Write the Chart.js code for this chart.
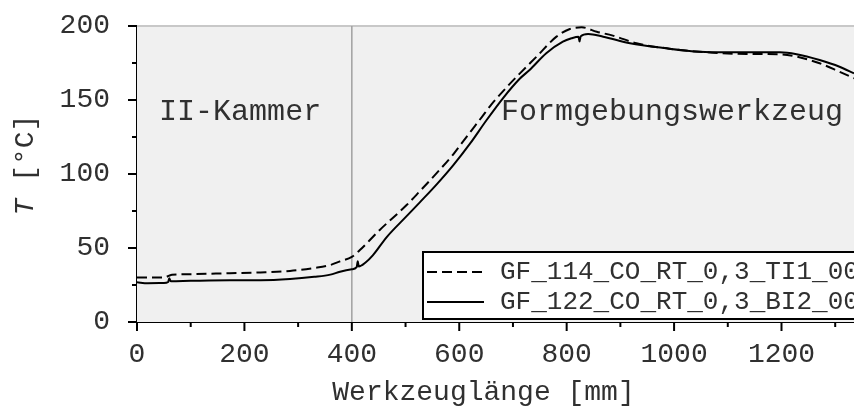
<!DOCTYPE html>
<html>
<head>
<meta charset="utf-8">
<script src="https://cdn.jsdelivr.net/npm/chart.js@4.4.1/dist/chart.umd.min.js"></script>
<style>
  html, body { margin: 0; padding: 0; background: #ffffff; overflow: hidden; }
  #wrap { width: 854px; height: 412px; }
</style>
</head>
<body>
<div id="wrap"><canvas id="tChart" width="854" height="412"></canvas></div>
<script>
// Messwerte: Temperatur entlang der Werkzeuglänge
const seriesNames = ['GF_114_CO_RT_0,3_TI1_001', 'GF_122_CO_RT_0,3_BI2_001'];

// GF_114 (gestrichelt)
const xDashed = [0, 50, 65, 100, 173, 230, 285, 330, 360, 378, 400, 415, 452, 502, 527, 545, 564, 586, 604, 623, 642, 660, 688, 713, 744, 781, 806, 828, 856, 886, 930, 986, 1011, 1073, 1135, 1197, 1228, 1271, 1308, 1335];
const yDashed = [30, 30, 32, 32.3, 33, 33.5, 34.5, 36.5, 38.5, 41, 44, 48.6, 62.2, 79, 88.5, 95.5, 103, 112, 120.5, 129.5, 138.5, 147, 158.5, 168, 179.3, 192.8, 198, 199.1, 196.1, 193.5, 188.3, 184.9, 183.8, 182, 181.1, 180.9, 179.3, 174.8, 169.1, 164.7];

// GF_122 (durchgezogen)
const xSolid = [0, 20, 50, 58, 60, 63, 100, 173, 230, 285, 330, 360, 378, 400, 409, 411, 413, 425, 439, 465, 502, 527, 558, 589, 620, 651, 682, 713, 731, 762, 793, 809, 822, 824, 826, 840, 868, 918, 986, 1048, 1100, 1150, 1197, 1228, 1271, 1308, 1335];
const ySolid = [26.8, 26.2, 26.3, 27, 29.5, 27.5, 27.8, 28.2, 28.2, 29, 30.5, 32, 34, 35.6, 37, 41, 37.5, 40, 45, 57.4, 71.5, 81, 93, 106, 120.5, 136.5, 151.5, 164.5, 170.3, 181.6, 189.4, 191.7, 192.8, 189.5, 193, 194.6, 192.8, 188.3, 184.9, 182.6, 182.2, 182.2, 182.2, 180.9, 177, 172.5, 168];

// Achsen
const xMin = 0, xMax = 1335, xMajor = 200, xMinor = 100;
const yMin = 0, yMax = 200, yMajor = 50, yMinor = 25;
const xTitle = 'Werkzeuglänge [mm]';

// Bereiche
const zoneBorder = 400;
const zoneLabels = ['II-Kammer', 'Formgebungswerkzeug'];
const zoneLabelX = [192, 996];
const zoneLabelY = 142;

const FONT = "'Liberation Mono', 'Courier New', monospace";

function toPoints(xs, ys) {
  return xs.map((x, i) => ({ x: x, y: ys[i] }));
}

// Hintergrund, Bereichslinie, Ticks, Beschriftungen, Legende
const decoPlugin = {
  id: 'deco',
  beforeDatasetsDraw(chart) {
    const { ctx, chartArea: a, scales } = chart;
    ctx.save();
    ctx.fillStyle = '#f0f0f0';
    ctx.fillRect(a.left, a.top, a.right - a.left, a.bottom - a.top);

    // obere Rahmenlinie
    ctx.strokeStyle = '#c8c8c8';
    ctx.lineWidth = 2;
    ctx.beginPath();
    ctx.moveTo(a.left, a.top);
    ctx.lineTo(a.right, a.top);
    ctx.stroke();

    // Grenze II-Kammer / Werkzeug
    const xb = scales.x.getPixelForValue(zoneBorder);
    ctx.strokeStyle = '#a0a0a0';
    ctx.lineWidth = 1.5;
    ctx.beginPath();
    ctx.moveTo(xb, a.top);
    ctx.lineTo(xb, a.bottom);
    ctx.stroke();

    // Bereichsnamen
    ctx.fillStyle = '#303030';
    ctx.font = '30px ' + FONT;
    ctx.textAlign = 'center';
    ctx.textBaseline = 'middle';
    zoneLabels.forEach((t, i) => {
      ctx.fillText(t, scales.x.getPixelForValue(zoneLabelX[i]), scales.y.getPixelForValue(zoneLabelY));
    });
    ctx.restore();
  },
  afterDraw(chart) {
    const { ctx, chartArea: a, scales } = chart;
    ctx.save();
    ctx.strokeStyle = '#000000';
    ctx.lineWidth = 2;

    // x-Ticks
    for (let v = xMin; v <= xMax; v += xMinor) {
      const px = scales.x.getPixelForValue(v);
      const len = v % xMajor === 0 ? 9 : 5;
      ctx.beginPath();
      ctx.moveTo(px, a.bottom);
      ctx.lineTo(px, a.bottom + len);
      ctx.stroke();
    }
    // y-Ticks
    for (let v = yMin; v <= yMax; v += yMinor) {
      const py = scales.y.getPixelForValue(v);
      const len = v % yMajor === 0 ? 9 : 5;
      ctx.beginPath();
      ctx.moveTo(a.left, py);
      ctx.lineTo(a.left - len, py);
      ctx.stroke();
    }

    // Achsentitel
    ctx.fillStyle = '#303030';
    ctx.textBaseline = 'middle';
    ctx.textAlign = 'center';
    ctx.font = '28px ' + FONT;
    ctx.fillText(xTitle, (a.left + 830) / 2, 393);

    ctx.save();
    ctx.translate(26, 165);
    ctx.rotate(-Math.PI / 2);
    ctx.textAlign = 'left';
    const italicT = 'italic 28px ' + FONT;
    const rest = ' [°C]';
    ctx.font = italicT;
    const wT = ctx.measureText('T').width;
    ctx.font = '28px ' + FONT;
    const wR = ctx.measureText(rest).width;
    const start = -(wT + wR) / 2;
    ctx.font = italicT;
    ctx.fillText('T', start, 0);
    ctx.font = '28px ' + FONT;
    ctx.fillText(rest, start + wT, 0);
    ctx.restore();

    // Legende
    const lx = 423, ly = 252, lw = 460, lh = 67;
    ctx.fillStyle = '#ffffff';
    ctx.fillRect(lx, ly, lw, lh);
    ctx.strokeStyle = '#000000';
    ctx.lineWidth = 2;
    ctx.strokeRect(lx, ly, lw, lh);
    chart.data.datasets.forEach((ds, i) => {
      const yy = ly + 20 + i * 30;
      ctx.strokeStyle = '#000000';
      ctx.lineWidth = 2;
      ctx.setLineDash(ds.borderDash || []);
      ctx.beginPath();
      ctx.moveTo(lx + 4, yy);
      ctx.lineTo(lx + 61, yy);
      ctx.stroke();
      ctx.setLineDash([]);
      ctx.fillStyle = '#303030';
      ctx.font = '26px ' + FONT;
      ctx.textAlign = 'left';
      ctx.textBaseline = 'middle';
      ctx.fillText(ds.label, lx + 77, yy);
    });
    ctx.restore();
  }
};

new Chart(document.getElementById('tChart'), {
  type: 'line',
  data: {
    datasets: [
      {
        label: seriesNames[0],
        data: toPoints(xDashed, yDashed),
        borderColor: '#000000',
        borderWidth: 2,
        borderDash: [10, 5],
        pointRadius: 0,
        cubicInterpolationMode: 'monotone'
      },
      {
        label: seriesNames[1],
        data: toPoints(xSolid, ySolid),
        borderColor: '#000000',
        borderWidth: 2,
        pointRadius: 0,
        cubicInterpolationMode: 'monotone'
      }
    ]
  },
  options: {
    responsive: false,
    animation: false,
    layout: { padding: { top: 26, right: 0, left: 0, bottom: 0 } },
    plugins: { legend: { display: false }, tooltip: { enabled: false } },
    scales: {
      x: {
        type: 'linear',
        min: xMin,
        max: xMax,
        grid: { display: false },
        border: { display: true, color: '#000000', width: 2 },
        ticks: {
          stepSize: xMajor,
          includeBounds: false,
          autoSkip: false,
          maxRotation: 0,
          padding: 8,
          color: '#303030',
          font: { family: FONT, size: 28 },
          callback: (v) => String(v)
        },
        afterFit(scale) {
          scale.height = 90;
          scale.paddingLeft = 0;
          scale.paddingRight = 0;
        }
      },
      y: {
        min: yMin,
        max: yMax,
        grid: { display: false },
        border: { display: true, color: '#000000', width: 2 },
        ticks: {
          stepSize: yMajor,
          padding: 19,
          color: '#303030',
          font: { family: FONT, size: 28 },
          callback: (v) => String(v)
        },
        afterFit(scale) {
          scale.width = 137;
          scale.paddingTop = 0;
          scale.paddingBottom = 0;
        }
      }
    }
  },
  plugins: [decoPlugin]
});
</script>
</body>
</html>
